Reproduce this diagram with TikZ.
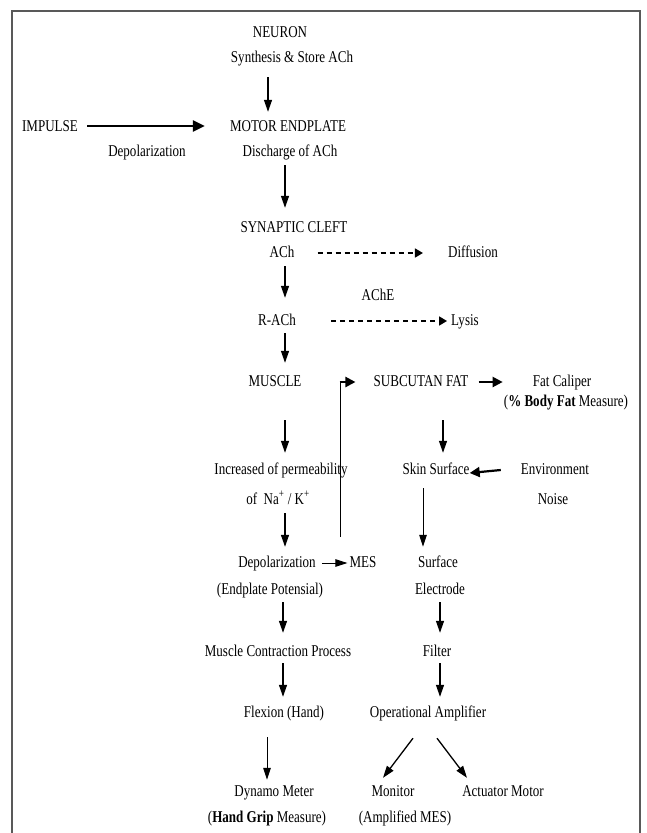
\documentclass[tikz,border=0pt]{standalone}
\usepackage{fontspec}
\setmainfont[FakeStretch=0.79]{Liberation Serif}
\usetikzlibrary{arrows.meta,calc}
\tikzset{
  txt/.style={font=\fontsize{16.5pt}{19pt}\selectfont, inner sep=0pt, text height=11pt, text depth=3pt, anchor=center},
  arr/.style={line width=1.3pt, -{Triangle[length=12pt,width=8pt]}},
  thinarr/.style={line width=1pt, -{Triangle[length=12pt,width=7.5pt]}},
  harr/.style={line width=2.2pt, -{Triangle[length=10pt,width=10pt]}},
  thickarr/.style={line width=2.4pt, -{Triangle[length=12pt,width=11pt]}},
  dasharr/.style={line width=1.6pt, dash pattern=on 5pt off 4pt, -{Triangle[length=8pt,width=9pt]}},
  thinline/.style={line width=1pt},
  frame/.style={line width=2pt, black!65}
}
\begin{document}
\begin{tikzpicture}[x=1pt,y=-1pt]
\useasboundingbox (0,0) rectangle (646,833);
\draw[frame] (12,840) -- (12,11) -- (640,11) -- (640,840);

\node[txt] (neuron) at (280,33) {NEURON};
\node[txt] (synth) at (292,58) {Synthesis \& Store ACh};
\node[txt] (impulse) at (50,127) {IMPULSE};
\node[txt] (depol1) at (147,152) {Depolarization};
\node[txt] (motor) at (288,127) {MOTOR ENDPLATE};
\node[txt] (disch) at (290,152) {Discharge of ACh};
\node[txt] (cleft) at (294,228) {SYNAPTIC CLEFT};
\node[txt] (ach) at (282,253) {ACh};
\node[txt] (diff) at (473,253) {Diffusion};
\node[txt] (ache) at (378,296) {AChE};
\node[txt] (rach) at (277,321) {R-ACh};
\node[txt] (lysis) at (465,321) {Lysis};
\node[txt] (muscle) at (275,382) {MUSCLE};
\node[txt] (subfat) at (421,382) {SUBCUTAN FAT};
\node[txt] (caliper) at (562,382) {Fat Caliper};
\node[txt] (bodyfat) at (566,402) {(\textbf{\% Body Fat} Measure)};
\node[txt] (incr) at (281,470) {Increased of permeability};
\node[txt] (na) at (278,500) {of~ Na\textsuperscript{+} / K\textsuperscript{+}};
\node[txt] (skin) at (436,470) {Skin Surface};
\node[txt] (env) at (555,470) {Environment};
\node[txt] (noise) at (553,500) {Noise};
\node[txt] (depol2) at (277,563) {Depolarization};
\node[txt] (mes) at (363,563) {MES};
\node[txt] (endpl) at (270,590) {(Endplate Potensial)};
\node[txt] (surf) at (438,563) {Surface};
\node[txt] (electrode) at (440,590) {Electrode};
\node[txt] (mcp) at (278,652) {Muscle Contraction Process};
\node[txt] (filter) at (437,652) {Filter};
\node[txt] (flex) at (284,713) {Flexion (Hand)};
\node[txt] (oa) at (428,713) {Operational Amplifier};
\node[txt] (dynamo) at (274,792) {Dynamo Meter};
\node[txt] (handgrip) at (267,818) {(\textbf{Hand Grip} Measure)};
\node[txt] (monitor) at (393,792) {Monitor};
\node[txt] (amp) at (405,818) {(Amplified MES)};
\node[txt] (actuator) at (503,792) {Actuator Motor};

% left column
\draw[arr] ($(synth.south)+(-24,12)$) -- ($(motor.north)+(-20,-8)$);
\draw[thickarr] ($(impulse.east)+(9,-1)$) -- ($(motor.west)+(-25,-1)$);
\draw[arr] ($(disch.south)+(-5,6)$) -- ($(cleft.north)+(-9,-13)$);
\draw[dasharr] ($(ach.east)+(23,0)$) -- ($(diff.west)+(-25,0)$);
\draw[arr] ($(ach.south)+(3,6)$) -- ($(rach.north)+(8,-16)$);
\draw[dasharr] ($(rach.east)+(35,0)$) -- ($(lysis.west)+(-4,0)$);
\draw[arr] ($(rach.south)+(8,5)$) -- ($(muscle.north)+(10,-12)$);
\draw[arr] ($(muscle.south)+(10,31)$) -- ($(incr.north)+(4,-10)$);
\draw[arr] ($(na.south)+(7,6)$) -- ($(depol2.north)+(8,-9)$);
\draw[thinarr] ($(depol2.east)+(6,0)$) -- ($(mes.west)+(-2,0)$);
\draw[arr] ($(endpl.south)+(13,5)$) -- ($(mcp.north)+(5,-12)$);
\draw[arr] ($(mcp.south)+(5,4)$) -- ($(flex.north)+(-1,-9)$);
\draw[thinarr] ($(flex.south)+(-17,17)$) -- ($(dynamo.north)+(-7,-5)$);

% MES to subcutaneous fat
\coordinate (mesup) at ($(mes.north)+(-23,-19)$);
\coordinate (corner) at (mesup |- subfat.west);
\draw[thinline] (mesup) -- ([yshift=-1pt]corner);
\draw[harr] ([xshift=-0.5pt]corner) -- ($(subfat.west)+(-18,0)$);

% right column
\draw[harr] ($(subfat.east)+(10,0)$) -- ($(caliper.west)+(-30,0)$);
\draw[arr] ($(subfat.south)+(22,31)$) -- ($(skin.north)+(7,-10)$);
\draw[harr] ($(env.west)+(-20,0)$) -- ($(skin.east)+(0,3)$);
\draw[thinarr] ($(skin.south)+(-13,11)$) -- ($(surf.north)+(-15,-9)$);
\draw[arr] ($(electrode.south)+(0,5)$) -- ($(filter.north)+(3,-12)$);
\draw[arr] ($(filter.south)+(3,4)$) -- ($(oa.north)+(12,-9)$);
\draw[arr] ($(oa.south)+(-15,18)$) -- ($(monitor.north)+(-10,-7)$);
\draw[arr] ($(oa.south)+(9,18)$) -- ($(actuator.north)+(-36,-7)$);
\end{tikzpicture}
\end{document}
